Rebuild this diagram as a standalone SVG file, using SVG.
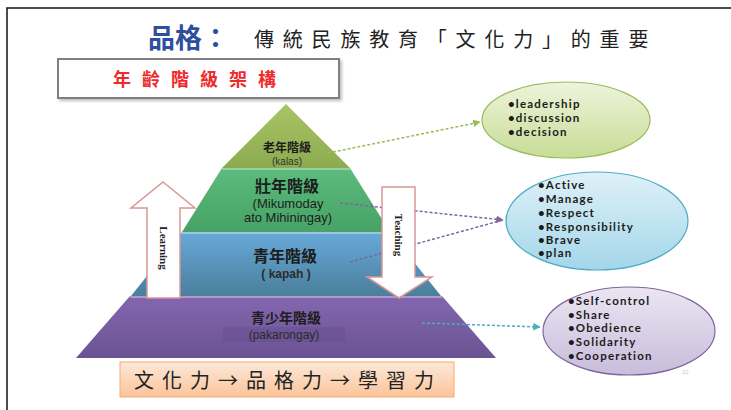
<svg xmlns="http://www.w3.org/2000/svg" width="731" height="410" viewBox="0 0 731 410">
<style>
.cjk{font-family:"Noto Sans CJK TC","Noto Sans CJK SC",sans-serif;}
.lat{font-family:"Liberation Sans",Arial,sans-serif;}
.bul{font-family:Lato,"Liberation Sans",sans-serif;font-weight:bold;font-size:11.5px;letter-spacing:1.2px;fill:#1b1b1b;}
.vert{font-family:"Liberation Serif","Times New Roman",serif;font-weight:bold;font-size:11px;fill:#222;}
.arrowbox{fill:#ffffff;stroke:#d99694;stroke-width:1.5;}
.conn{fill:none;stroke-width:1.5;stroke-dasharray:3,2;}
.sep{fill:none;stroke:#ffffff;stroke-opacity:0.45;stroke-width:1.5;}
</style>
<defs>
<linearGradient id="gOlive" x1="0" y1="0" x2="0" y2="1"><stop offset="0" stop-color="#a9c466"/><stop offset="1" stop-color="#8cab4f"/></linearGradient>
<linearGradient id="gGreen" x1="0" y1="0" x2="0" y2="1"><stop offset="0" stop-color="#5cbb7d"/><stop offset="1" stop-color="#46a265"/></linearGradient>
<linearGradient id="gBlue" x1="0" y1="0" x2="0" y2="1"><stop offset="0" stop-color="#68a9d9"/><stop offset="1" stop-color="#4a7f9c"/></linearGradient>
<linearGradient id="gPurple" x1="0" y1="0" x2="0" y2="1"><stop offset="0" stop-color="#8466b0"/><stop offset="1" stop-color="#6a5393"/></linearGradient>
<linearGradient id="gEg" x1="0" y1="0" x2="0" y2="1"><stop offset="0" stop-color="#eef4dc"/><stop offset="1" stop-color="#c7dc95"/></linearGradient>
<linearGradient id="gEb" x1="0" y1="0" x2="0" y2="1"><stop offset="0" stop-color="#dff1f8"/><stop offset="1" stop-color="#a3d6e9"/></linearGradient>
<linearGradient id="gEp" x1="0" y1="0" x2="0" y2="1"><stop offset="0" stop-color="#ebe6f2"/><stop offset="1" stop-color="#c8bcdb"/></linearGradient>
<linearGradient id="gOr" x1="0" y1="0" x2="0" y2="1"><stop offset="0" stop-color="#fde8d8"/><stop offset="1" stop-color="#fbc49a"/></linearGradient>
<marker id="mG" viewBox="0 0 10 10" refX="9" refY="5" markerWidth="5" markerHeight="5" orient="auto"><path d="M0,0 L10,5 L0,10 z" fill="#9bbb59"/></marker>
<marker id="mP" viewBox="0 0 10 10" refX="9" refY="5" markerWidth="5" markerHeight="5" orient="auto"><path d="M0,0 L10,5 L0,10 z" fill="#8064a2"/></marker>
<marker id="mB" viewBox="0 0 10 10" refX="9" refY="5" markerWidth="5" markerHeight="5" orient="auto"><path d="M0,0 L10,5 L0,10 z" fill="#4bacc6"/></marker>
<filter id="sh" x="-10%" y="-10%" width="130%" height="140%"><feDropShadow dx="2" dy="2" stdDeviation="1.5" flood-color="#000" flood-opacity="0.25"/></filter>
</defs>

<g id="frame"><path d="M7,410 L7,8 L731,8" fill="none" stroke="#111" stroke-width="1.5"/></g>

<g id="title">
<text x="148" y="48" class="cjk" font-size="27" font-weight="bold" fill="#2e4f9e">品格：</text>
<text x="254" y="47" class="cjk" font-size="20" letter-spacing="8.8" fill="#222">傳統民族教育「文化力」的重要</text>
</g>

<g id="heading">
<rect x="58" y="59" width="281" height="39" fill="#fff" stroke="#7f7f7f" stroke-width="2" filter="url(#sh)"/>
<text x="113" y="86" class="cjk" font-size="18" font-weight="bold" letter-spacing="11" fill="#ee2b2b">年齡階級架構</text>
</g>

<g id="layer-purple">
<path d="M130,296 L442,296 L496,358 L76,358 Z" fill="url(#gPurple)"/>
<path class="sep" d="M130,297 L442,297"/>
<rect x="223" y="327" width="122" height="15" fill="#5f4a86" opacity="0.35"/>
<text x="286" y="323" text-anchor="middle" class="cjk" font-size="14" font-weight="bold" fill="#1d1d1d">青少年階級</text>
<text x="284" y="339" text-anchor="middle" class="lat" font-size="12" fill="#2a2a2a">(pakarongay)</text>
</g>
<g id="layer-blue">
<path d="M182,232 L390,232 L441,296 L131,296 Z" fill="url(#gBlue)"/>
<path class="sep" d="M182,233 L390,233"/>
<text x="285" y="262" text-anchor="middle" class="cjk" font-size="16" font-weight="bold" fill="#1d1d1d">青年階級</text>
<text x="286" y="278" text-anchor="middle" class="lat" font-size="12" font-weight="bold" fill="#2a2a2a">( kapah )</text>
</g>
<g id="layer-green">
<path d="M222,168 L350,168 L390,232 L182,232 Z" fill="url(#gGreen)"/>
<path class="sep" d="M222,169 L350,169"/>
<text x="287" y="192" text-anchor="middle" class="cjk" font-size="16" font-weight="bold" fill="#1d1d1d">壯年階級</text>
<text x="288" y="208" text-anchor="middle" class="lat" font-size="13" fill="#1d1d1d">(Mikumoday</text>
<text x="288" y="222" text-anchor="middle" class="lat" font-size="13" fill="#1d1d1d">ato Mihiningay)</text>
</g>
<g id="layer-olive">
<path d="M286,104 L350,168 L222,168 Z" fill="url(#gOlive)"/>
<text x="287" y="152" text-anchor="middle" class="cjk" font-size="12" font-weight="bold" fill="#1d1d1d">老年階級</text>
<text x="287" y="165" text-anchor="middle" class="lat" font-size="10" fill="#333">(kalas)</text>
</g>

<g id="connectors">
<path class="conn" d="M328,153 L480,122" stroke="#9bbb59" marker-end="url(#mG)"/>
<path class="conn" d="M340,203 L503,220" stroke="#8064a2" marker-end="url(#mP)"/>
<path class="conn" d="M350,262 L503,220" stroke="#8064a2"/>
<path class="conn" d="M422,323 L540,327" stroke="#4bacc6" marker-end="url(#mB)"/>
</g>

<g id="learning">
<path class="arrowbox" d="M163,182 L195,208 L180,208 L180,298 L147,298 L147,208 L131,208 Z"/>
<text class="vert" transform="translate(160,248) rotate(90)" text-anchor="middle">Learning</text>
</g>
<g id="teaching">
<path class="arrowbox" d="M382,187 L415,187 L415,277 L432,277 L399,298 L367,277 L382,277 Z"/>
<text class="vert" transform="translate(395,235) rotate(90)" text-anchor="middle">Teaching</text>
</g>

<g id="ellipse-elder">
<ellipse cx="566" cy="120" rx="84" ry="38" fill="url(#gEg)" stroke="#9bbb59" stroke-width="1.2"/>
<text class="bul" x="508" y="108">•leadership</text>
<text class="bul" x="508" y="122">•discussion</text>
<text class="bul" x="508" y="136">•decision</text>
</g>
<g id="ellipse-adult">
<ellipse cx="597" cy="221" rx="91" ry="49" fill="url(#gEb)" stroke="#4bacc6" stroke-width="1.2"/>
<text class="bul" x="538" y="189">•Active</text>
<text class="bul" x="538" y="203">•Manage</text>
<text class="bul" x="538" y="217">•Respect</text>
<text class="bul" x="538" y="231">•Responsibility</text>
<text class="bul" x="538" y="244">•Brave</text>
<text class="bul" x="538" y="257">•plan</text>
</g>
<g id="ellipse-youth">
<ellipse cx="629" cy="331" rx="86" ry="44" fill="url(#gEp)" stroke="#8064a2" stroke-width="1.2"/>
<text class="bul" x="568" y="305">•Self-control</text>
<text class="bul" x="568" y="319">•Share</text>
<text class="bul" x="568" y="332">•Obedience</text>
<text class="bul" x="568" y="346">•Solidarity</text>
<text class="bul" x="568" y="360">•Cooperation</text>
<text x="682" y="374" class="lat" font-size="6" fill="#c8c8c8">22</text>
</g>

<g id="summary">
<rect x="120" y="362" width="334" height="35" fill="url(#gOr)" stroke="#f9a870" stroke-width="1"/>
<text x="134" y="388" class="cjk" font-size="20" letter-spacing="8" fill="#222">文化力→品格力→學習力</text>
</g>
</svg>
